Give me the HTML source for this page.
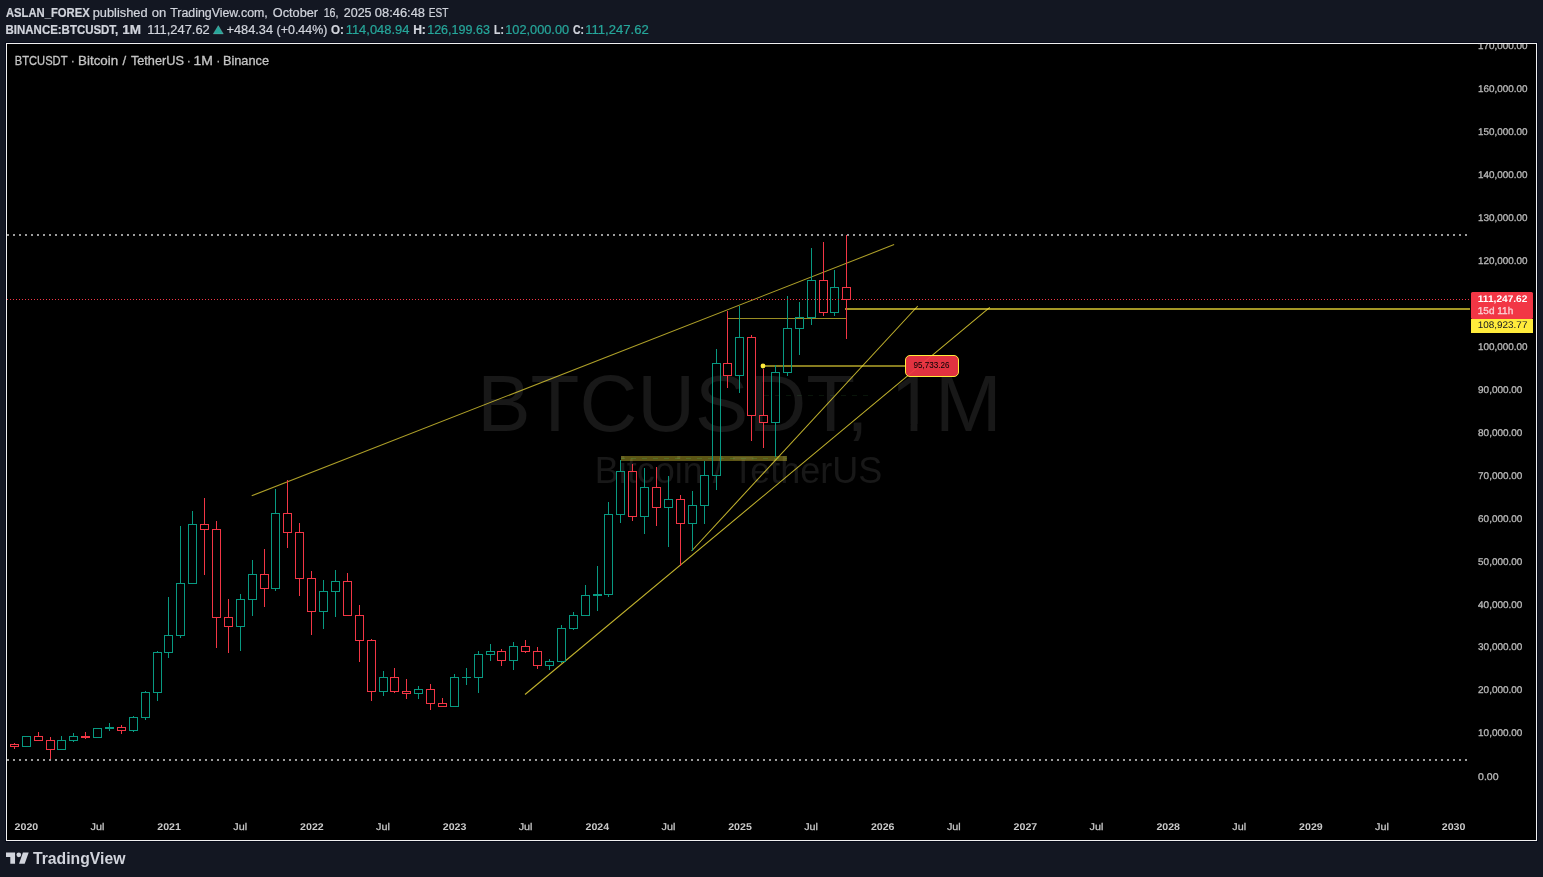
<!DOCTYPE html>
<html lang="en"><head><meta charset="utf-8"><title>BTCUSDT 1M</title>
<style>html,body{margin:0;padding:0;background:#131722;overflow:hidden}svg{display:block}text{font-family:"Liberation Sans",Arial,sans-serif}</style>
</head><body>
<svg width="1543" height="877" viewBox="0 0 1543 877">
<rect x="0" y="0" width="1543" height="877" fill="#131722"/>
<rect x="5" y="42" width="1533" height="800" fill="#070b1a" shape-rendering="crispEdges"/>
<rect x="6" y="43" width="1531" height="798" fill="#f0f0f0" shape-rendering="crispEdges"/>
<rect x="7" y="44" width="1529" height="796" fill="#000000" shape-rendering="crispEdges"/>
<clipPath id="cp"><rect x="7" y="44" width="1529" height="796"/></clipPath>
<clipPath id="plot"><rect x="7" y="44" width="1463" height="796"/></clipPath>
<g fill="#181818" text-anchor="middle">
<text x="739.5" y="430.7" font-size="80">BTCUSDT, 1M</text>
<text x="738.5" y="482.5" font-size="36">Bitcoin / TetherUS</text>
</g>
<path d="M895 424.3h15.6v8h-15.6zM917.4 424.3h15v8h-15z" fill="#000"/>
<g stroke="#ffeb3b" stroke-opacity="0.76" stroke-width="1.05" fill="none" clip-path="url(#plot)">
<line x1="251.7" y1="495.8" x2="894.1" y2="244.6" stroke-opacity="0.68"/>
<line x1="525" y1="694.5" x2="989.8" y2="307.3"/>
<line x1="691.6" y1="551" x2="917.8" y2="306"/>
</g>
<rect x="727" y="318" width="120" height="1" fill="#ffeb3b" fill-opacity="0.6" shape-rendering="crispEdges"/>
<rect x="621" y="456" width="166" height="5" fill="#ffeb3b" fill-opacity="0.36" shape-rendering="crispEdges"/>
<line x1="621" y1="458.5" x2="787" y2="458.5" stroke="#4caf50" stroke-opacity="0.28" stroke-width="1" stroke-dasharray="5 6" stroke-dashoffset="1.1" shape-rendering="crispEdges"/>
<line x1="763.5" y1="395.5" x2="867.5" y2="395.5" stroke="#4caf50" stroke-opacity="0.12" stroke-width="1" stroke-dasharray="5 6" shape-rendering="crispEdges"/>
<rect x="845" y="308" width="625" height="2" fill="#ffeb3b" fill-opacity="0.64" shape-rendering="crispEdges"/>
<rect x="765" y="365" width="140" height="2" fill="#ffeb3b" fill-opacity="0.53" shape-rendering="crispEdges"/>
<circle cx="763" cy="366" r="2.4" fill="#ffeb3b"/>
<g shape-rendering="crispEdges">
<rect x="14" y="743" width="1" height="1" fill="#f23645"/>
<rect x="14" y="747" width="1" height="2" fill="#f23645"/>
<path d="M10 744h9v3h-9zM11 745v1h7v-1z" fill="#f23645" fill-rule="evenodd"/>
<path d="M22 736h9v11h-9zM23 737v9h7v-9z" fill="#089981" fill-rule="evenodd"/>
<rect x="38" y="732" width="1" height="4" fill="#f23645"/>
<path d="M34 736h9v5h-9zM35 737v3h7v-3z" fill="#f23645" fill-rule="evenodd"/>
<rect x="50" y="737" width="1" height="3" fill="#f23645"/>
<rect x="50" y="750" width="1" height="10" fill="#f23645"/>
<path d="M46 740h9v10h-9zM47 741v8h7v-8z" fill="#f23645" fill-rule="evenodd"/>
<rect x="61" y="736" width="1" height="4" fill="#089981"/>
<path d="M57 740h9v10h-9zM58 741v8h7v-8z" fill="#089981" fill-rule="evenodd"/>
<rect x="73" y="733" width="1" height="3" fill="#089981"/>
<rect x="73" y="741" width="1" height="1" fill="#089981"/>
<path d="M69 736h9v5h-9zM70 737v3h7v-3z" fill="#089981" fill-rule="evenodd"/>
<rect x="85" y="732" width="1" height="4" fill="#f23645"/>
<rect x="85" y="738" width="1" height="1" fill="#f23645"/>
<rect x="81" y="736" width="9" height="2" fill="#f23645"/>
<path d="M93 728h9v10h-9zM94 729v8h7v-8z" fill="#089981" fill-rule="evenodd"/>
<rect x="109" y="723" width="1" height="4" fill="#089981"/>
<rect x="109" y="729" width="1" height="2" fill="#089981"/>
<rect x="105" y="727" width="9" height="2" fill="#089981"/>
<rect x="121" y="725" width="1" height="2" fill="#f23645"/>
<rect x="121" y="731" width="1" height="3" fill="#f23645"/>
<path d="M117 727h9v4h-9zM118 728v2h7v-2z" fill="#f23645" fill-rule="evenodd"/>
<rect x="133" y="716" width="1" height="1" fill="#089981"/>
<rect x="133" y="731" width="1" height="1" fill="#089981"/>
<path d="M129 717h9v14h-9zM130 718v12h7v-12z" fill="#089981" fill-rule="evenodd"/>
<rect x="145" y="691" width="1" height="1" fill="#089981"/>
<rect x="145" y="718" width="1" height="2" fill="#089981"/>
<path d="M141 692h9v26h-9zM142 693v24h7v-24z" fill="#089981" fill-rule="evenodd"/>
<rect x="157" y="651" width="1" height="1" fill="#089981"/>
<rect x="157" y="693" width="1" height="8" fill="#089981"/>
<path d="M153 652h9v41h-9zM154 653v39h7v-39z" fill="#089981" fill-rule="evenodd"/>
<rect x="168" y="597" width="1" height="38" fill="#089981"/>
<rect x="168" y="653" width="1" height="5" fill="#089981"/>
<path d="M164 635h9v18h-9zM165 636v16h7v-16z" fill="#089981" fill-rule="evenodd"/>
<rect x="180" y="526" width="1" height="57" fill="#089981"/>
<rect x="180" y="636" width="1" height="2" fill="#089981"/>
<path d="M176 583h9v53h-9zM177 584v51h7v-51z" fill="#089981" fill-rule="evenodd"/>
<rect x="192" y="511" width="1" height="13" fill="#089981"/>
<path d="M188 524h9v60h-9zM189 525v58h7v-58z" fill="#089981" fill-rule="evenodd"/>
<rect x="204" y="498" width="1" height="26" fill="#f23645"/>
<rect x="204" y="530" width="1" height="45" fill="#f23645"/>
<path d="M200 524h9v6h-9zM201 525v4h7v-4z" fill="#f23645" fill-rule="evenodd"/>
<rect x="216" y="521" width="1" height="8" fill="#f23645"/>
<rect x="216" y="618" width="1" height="30" fill="#f23645"/>
<path d="M212 529h9v89h-9zM213 530v87h7v-87z" fill="#f23645" fill-rule="evenodd"/>
<rect x="228" y="599" width="1" height="18" fill="#f23645"/>
<rect x="228" y="627" width="1" height="26" fill="#f23645"/>
<path d="M224 617h9v10h-9zM225 618v8h7v-8z" fill="#f23645" fill-rule="evenodd"/>
<rect x="240" y="594" width="1" height="5" fill="#089981"/>
<rect x="240" y="627" width="1" height="24" fill="#089981"/>
<path d="M236 599h9v28h-9zM237 600v26h7v-26z" fill="#089981" fill-rule="evenodd"/>
<rect x="252" y="560" width="1" height="14" fill="#089981"/>
<rect x="252" y="600" width="1" height="16" fill="#089981"/>
<path d="M248 574h9v26h-9zM249 575v24h7v-24z" fill="#089981" fill-rule="evenodd"/>
<rect x="264" y="549" width="1" height="25" fill="#f23645"/>
<rect x="264" y="589" width="1" height="18" fill="#f23645"/>
<path d="M260 574h9v15h-9zM261 575v13h7v-13z" fill="#f23645" fill-rule="evenodd"/>
<rect x="275" y="489" width="1" height="24" fill="#089981"/>
<rect x="275" y="589" width="1" height="2" fill="#089981"/>
<path d="M271 513h9v76h-9zM272 514v74h7v-74z" fill="#089981" fill-rule="evenodd"/>
<rect x="287" y="480" width="1" height="33" fill="#f23645"/>
<rect x="287" y="533" width="1" height="15" fill="#f23645"/>
<path d="M283 513h9v20h-9zM284 514v18h7v-18z" fill="#f23645" fill-rule="evenodd"/>
<rect x="299" y="523" width="1" height="9" fill="#f23645"/>
<rect x="299" y="579" width="1" height="17" fill="#f23645"/>
<path d="M295 532h9v47h-9zM296 533v45h7v-45z" fill="#f23645" fill-rule="evenodd"/>
<rect x="311" y="571" width="1" height="7" fill="#f23645"/>
<rect x="311" y="612" width="1" height="23" fill="#f23645"/>
<path d="M307 578h9v34h-9zM308 579v32h7v-32z" fill="#f23645" fill-rule="evenodd"/>
<rect x="323" y="580" width="1" height="11" fill="#089981"/>
<rect x="323" y="612" width="1" height="17" fill="#089981"/>
<path d="M319 591h9v21h-9zM320 592v19h7v-19z" fill="#089981" fill-rule="evenodd"/>
<rect x="335" y="570" width="1" height="11" fill="#089981"/>
<rect x="335" y="592" width="1" height="25" fill="#089981"/>
<path d="M331 581h9v11h-9zM332 582v9h7v-9z" fill="#089981" fill-rule="evenodd"/>
<rect x="347" y="573" width="1" height="8" fill="#f23645"/>
<path d="M343 581h9v35h-9zM344 582v33h7v-33z" fill="#f23645" fill-rule="evenodd"/>
<rect x="359" y="605" width="1" height="10" fill="#f23645"/>
<rect x="359" y="641" width="1" height="21" fill="#f23645"/>
<path d="M355 615h9v26h-9zM356 616v24h7v-24z" fill="#f23645" fill-rule="evenodd"/>
<rect x="371" y="639" width="1" height="1" fill="#f23645"/>
<rect x="371" y="692" width="1" height="9" fill="#f23645"/>
<path d="M367 640h9v52h-9zM368 641v50h7v-50z" fill="#f23645" fill-rule="evenodd"/>
<rect x="383" y="671" width="1" height="6" fill="#089981"/>
<rect x="383" y="692" width="1" height="4" fill="#089981"/>
<path d="M379 677h9v15h-9zM380 678v13h7v-13z" fill="#089981" fill-rule="evenodd"/>
<rect x="394" y="668" width="1" height="9" fill="#f23645"/>
<rect x="394" y="692" width="1" height="1" fill="#f23645"/>
<path d="M390 677h9v15h-9zM391 678v13h7v-13z" fill="#f23645" fill-rule="evenodd"/>
<rect x="406" y="679" width="1" height="12" fill="#f23645"/>
<rect x="406" y="694" width="1" height="5" fill="#f23645"/>
<path d="M402 691h9v3h-9zM403 692v1h7v-1z" fill="#f23645" fill-rule="evenodd"/>
<rect x="418" y="686" width="1" height="3" fill="#089981"/>
<rect x="418" y="694" width="1" height="5" fill="#089981"/>
<path d="M414 689h9v5h-9zM415 690v3h7v-3z" fill="#089981" fill-rule="evenodd"/>
<rect x="430" y="684" width="1" height="5" fill="#f23645"/>
<rect x="430" y="704" width="1" height="6" fill="#f23645"/>
<path d="M426 689h9v15h-9zM427 690v13h7v-13z" fill="#f23645" fill-rule="evenodd"/>
<rect x="442" y="698" width="1" height="5" fill="#f23645"/>
<path d="M438 703h9v4h-9zM439 704v2h7v-2z" fill="#f23645" fill-rule="evenodd"/>
<rect x="454" y="674" width="1" height="3" fill="#089981"/>
<path d="M450 677h9v30h-9zM451 678v28h7v-28z" fill="#089981" fill-rule="evenodd"/>
<rect x="466" y="668" width="1" height="9" fill="#089981"/>
<rect x="466" y="678" width="1" height="7" fill="#089981"/>
<rect x="462" y="677" width="9" height="1" fill="#089981"/>
<rect x="478" y="651" width="1" height="3" fill="#089981"/>
<rect x="478" y="678" width="1" height="15" fill="#089981"/>
<path d="M474 654h9v24h-9zM475 655v22h7v-22z" fill="#089981" fill-rule="evenodd"/>
<rect x="490" y="644" width="1" height="7" fill="#089981"/>
<rect x="490" y="655" width="1" height="6" fill="#089981"/>
<path d="M486 651h9v4h-9zM487 652v2h7v-2z" fill="#089981" fill-rule="evenodd"/>
<rect x="501" y="649" width="1" height="2" fill="#f23645"/>
<rect x="501" y="661" width="1" height="5" fill="#f23645"/>
<path d="M497 651h9v10h-9zM498 652v8h7v-8z" fill="#f23645" fill-rule="evenodd"/>
<rect x="513" y="642" width="1" height="4" fill="#089981"/>
<rect x="513" y="661" width="1" height="9" fill="#089981"/>
<path d="M509 646h9v15h-9zM510 647v13h7v-13z" fill="#089981" fill-rule="evenodd"/>
<rect x="525" y="640" width="1" height="6" fill="#f23645"/>
<rect x="525" y="652" width="1" height="1" fill="#f23645"/>
<path d="M521 646h9v6h-9zM522 647v4h7v-4z" fill="#f23645" fill-rule="evenodd"/>
<rect x="537" y="647" width="1" height="4" fill="#f23645"/>
<rect x="537" y="666" width="1" height="3" fill="#f23645"/>
<path d="M533 651h9v15h-9zM534 652v13h7v-13z" fill="#f23645" fill-rule="evenodd"/>
<rect x="549" y="659" width="1" height="2" fill="#089981"/>
<rect x="549" y="666" width="1" height="4" fill="#089981"/>
<path d="M545 661h9v5h-9zM546 662v3h7v-3z" fill="#089981" fill-rule="evenodd"/>
<rect x="561" y="625" width="1" height="3" fill="#089981"/>
<rect x="561" y="662" width="1" height="1" fill="#089981"/>
<path d="M557 628h9v34h-9zM558 629v32h7v-32z" fill="#089981" fill-rule="evenodd"/>
<rect x="573" y="612" width="1" height="3" fill="#089981"/>
<rect x="573" y="629" width="1" height="1" fill="#089981"/>
<path d="M569 615h9v14h-9zM570 616v12h7v-12z" fill="#089981" fill-rule="evenodd"/>
<rect x="585" y="585" width="1" height="10" fill="#089981"/>
<path d="M581 595h9v21h-9zM582 596v19h7v-19z" fill="#089981" fill-rule="evenodd"/>
<rect x="597" y="566" width="1" height="28" fill="#089981"/>
<rect x="597" y="596" width="1" height="15" fill="#089981"/>
<rect x="593" y="594" width="9" height="2" fill="#089981"/>
<rect x="608" y="502" width="1" height="12" fill="#089981"/>
<rect x="608" y="595" width="1" height="2" fill="#089981"/>
<path d="M604 514h9v81h-9zM605 515v79h7v-79z" fill="#089981" fill-rule="evenodd"/>
<rect x="620" y="460" width="1" height="11" fill="#089981"/>
<rect x="620" y="515" width="1" height="8" fill="#089981"/>
<path d="M616 471h9v44h-9zM617 472v42h7v-42z" fill="#089981" fill-rule="evenodd"/>
<rect x="632" y="464" width="1" height="7" fill="#f23645"/>
<rect x="632" y="517" width="1" height="4" fill="#f23645"/>
<path d="M628 471h9v46h-9zM629 472v44h7v-44z" fill="#f23645" fill-rule="evenodd"/>
<rect x="644" y="468" width="1" height="19" fill="#089981"/>
<rect x="644" y="517" width="1" height="17" fill="#089981"/>
<path d="M640 487h9v30h-9zM641 488v28h7v-28z" fill="#089981" fill-rule="evenodd"/>
<rect x="656" y="467" width="1" height="20" fill="#f23645"/>
<rect x="656" y="508" width="1" height="18" fill="#f23645"/>
<path d="M652 487h9v21h-9zM653 488v19h7v-19z" fill="#f23645" fill-rule="evenodd"/>
<rect x="668" y="476" width="1" height="23" fill="#089981"/>
<rect x="668" y="508" width="1" height="39" fill="#089981"/>
<path d="M664 499h9v9h-9zM665 500v7h7v-7z" fill="#089981" fill-rule="evenodd"/>
<rect x="680" y="495" width="1" height="4" fill="#f23645"/>
<rect x="680" y="524" width="1" height="42" fill="#f23645"/>
<path d="M676 499h9v25h-9zM677 500v23h7v-23z" fill="#f23645" fill-rule="evenodd"/>
<rect x="692" y="491" width="1" height="14" fill="#089981"/>
<rect x="692" y="524" width="1" height="27" fill="#089981"/>
<path d="M688 505h9v19h-9zM689 506v17h7v-17z" fill="#089981" fill-rule="evenodd"/>
<rect x="704" y="461" width="1" height="14" fill="#089981"/>
<rect x="704" y="506" width="1" height="18" fill="#089981"/>
<path d="M700 475h9v31h-9zM701 476v29h7v-29z" fill="#089981" fill-rule="evenodd"/>
<rect x="716" y="349" width="1" height="14" fill="#089981"/>
<rect x="716" y="476" width="1" height="14" fill="#089981"/>
<path d="M712 363h9v113h-9zM713 364v111h7v-111z" fill="#089981" fill-rule="evenodd"/>
<rect x="727" y="311" width="1" height="52" fill="#f23645"/>
<rect x="727" y="376" width="1" height="12" fill="#f23645"/>
<path d="M723 363h9v13h-9zM724 364v11h7v-11z" fill="#f23645" fill-rule="evenodd"/>
<rect x="739" y="306" width="1" height="31" fill="#089981"/>
<rect x="739" y="376" width="1" height="17" fill="#089981"/>
<path d="M735 337h9v39h-9zM736 338v37h7v-37z" fill="#089981" fill-rule="evenodd"/>
<rect x="751" y="335" width="1" height="2" fill="#f23645"/>
<rect x="751" y="416" width="1" height="25" fill="#f23645"/>
<path d="M747 337h9v79h-9zM748 338v77h7v-77z" fill="#f23645" fill-rule="evenodd"/>
<rect x="763" y="369" width="1" height="46" fill="#f23645"/>
<rect x="763" y="423" width="1" height="25" fill="#f23645"/>
<path d="M759 415h9v8h-9zM760 416v6h7v-6z" fill="#f23645" fill-rule="evenodd"/>
<rect x="775" y="365" width="1" height="7" fill="#089981"/>
<rect x="775" y="423" width="1" height="34" fill="#089981"/>
<path d="M771 372h9v51h-9zM772 373v49h7v-49z" fill="#089981" fill-rule="evenodd"/>
<rect x="787" y="296" width="1" height="32" fill="#089981"/>
<rect x="787" y="373" width="1" height="3" fill="#089981"/>
<path d="M783 328h9v45h-9zM784 329v43h7v-43z" fill="#089981" fill-rule="evenodd"/>
<rect x="799" y="302" width="1" height="15" fill="#089981"/>
<rect x="799" y="329" width="1" height="26" fill="#089981"/>
<path d="M795 317h9v12h-9zM796 318v10h7v-10z" fill="#089981" fill-rule="evenodd"/>
<rect x="811" y="248" width="1" height="32" fill="#089981"/>
<rect x="811" y="318" width="1" height="7" fill="#089981"/>
<path d="M807 280h9v38h-9zM808 281v36h7v-36z" fill="#089981" fill-rule="evenodd"/>
<rect x="823" y="242" width="1" height="38" fill="#f23645"/>
<rect x="823" y="313" width="1" height="3" fill="#f23645"/>
<path d="M819 280h9v33h-9zM820 281v31h7v-31z" fill="#f23645" fill-rule="evenodd"/>
<rect x="834" y="270" width="1" height="17" fill="#089981"/>
<rect x="834" y="313" width="1" height="3" fill="#089981"/>
<path d="M830 287h9v26h-9zM831 288v24h7v-24z" fill="#089981" fill-rule="evenodd"/>
<rect x="846" y="235" width="1" height="52" fill="#f23645"/>
<rect x="846" y="300" width="1" height="39" fill="#f23645"/>
<path d="M842 287h9v13h-9zM843 288v11h7v-11z" fill="#f23645" fill-rule="evenodd"/>
</g>
<g shape-rendering="crispEdges" stroke="#9c9c9c" stroke-width="2" stroke-dasharray="2 4">
<line x1="7" y1="235" x2="1469" y2="235"/>
<line x1="7" y1="760" x2="1469" y2="760"/>
</g>
<rect x="905.5" y="355.5" width="53" height="21" rx="4.5" fill="#f23645" fill-opacity="0.93" stroke="#ffeb3b" stroke-width="1"/>
<text x="913.6" y="368" font-size="9" textLength="36" lengthAdjust="spacingAndGlyphs" fill="#000">95,733.26</text>
<line x1="7" y1="299.5" x2="1470" y2="299.5" stroke="#f23645" stroke-width="1" stroke-dasharray="1 2" shape-rendering="crispEdges"/>
<g font-size="9.7" text-rendering="geometricPrecision" fill="#b8b8b8" stroke="#b8b8b8" stroke-width="0.3" clip-path="url(#cp)">
<text x="1478.1" y="780.2" textLength="20.4" lengthAdjust="spacingAndGlyphs">0.00</text>
<text x="1478.1" y="736.3" textLength="44.2" lengthAdjust="spacingAndGlyphs">10,000.00</text>
<text x="1478.1" y="693.4" textLength="44.2" lengthAdjust="spacingAndGlyphs">20,000.00</text>
<text x="1478.1" y="650.4" textLength="44.2" lengthAdjust="spacingAndGlyphs">30,000.00</text>
<text x="1478.1" y="607.5" textLength="44.2" lengthAdjust="spacingAndGlyphs">40,000.00</text>
<text x="1478.1" y="564.5" textLength="44.2" lengthAdjust="spacingAndGlyphs">50,000.00</text>
<text x="1478.1" y="521.6" textLength="44.2" lengthAdjust="spacingAndGlyphs">60,000.00</text>
<text x="1478.1" y="478.7" textLength="44.2" lengthAdjust="spacingAndGlyphs">70,000.00</text>
<text x="1478.1" y="435.7" textLength="44.2" lengthAdjust="spacingAndGlyphs">80,000.00</text>
<text x="1478.1" y="392.8" textLength="44.2" lengthAdjust="spacingAndGlyphs">90,000.00</text>
<text x="1478.1" y="349.8" textLength="49.4" lengthAdjust="spacingAndGlyphs">100,000.00</text>
<text x="1478.1" y="306.9" textLength="49.4" lengthAdjust="spacingAndGlyphs">110,000.00</text>
<text x="1478.1" y="264.0" textLength="49.4" lengthAdjust="spacingAndGlyphs">120,000.00</text>
<text x="1478.1" y="221.0" textLength="49.4" lengthAdjust="spacingAndGlyphs">130,000.00</text>
<text x="1478.1" y="178.1" textLength="49.4" lengthAdjust="spacingAndGlyphs">140,000.00</text>
<text x="1478.1" y="135.1" textLength="49.4" lengthAdjust="spacingAndGlyphs">150,000.00</text>
<text x="1478.1" y="92.2" textLength="49.4" lengthAdjust="spacingAndGlyphs">160,000.00</text>
<text x="1478.1" y="49.3" textLength="49.4" lengthAdjust="spacingAndGlyphs">170,000.00</text>
</g>
<rect x="1471" y="292" width="62" height="27" rx="1.5" fill="#f23645"/>
<rect x="1471" y="319" width="62" height="14" fill="#ffeb3b"/>
<text x="1477.8" y="302.1" text-rendering="geometricPrecision" font-size="9.6" font-weight="bold" fill="#fff" textLength="49.6" lengthAdjust="spacingAndGlyphs">111,247.62</text>
<text x="1477.8" y="314.2" text-rendering="geometricPrecision" font-size="9.8" fill="#fbd0d4" stroke="#fbd0d4" stroke-width="0.3" textLength="35.4" lengthAdjust="spacingAndGlyphs">15d 11h</text>
<text x="1477.8" y="328.1" text-rendering="geometricPrecision" font-size="9.6" fill="#131722" textLength="49.6" lengthAdjust="spacingAndGlyphs">108,923.77</text>
<g font-size="9.8" text-rendering="geometricPrecision" fill="#c8c8c8">
<text x="14.6" y="830" font-weight="bold" textLength="23.6" lengthAdjust="spacingAndGlyphs">2020</text>
<text x="90.6" y="830" textLength="13.8" lengthAdjust="spacingAndGlyphs" stroke="#c8c8c8" stroke-width="0.25">Jul</text>
<text x="157.3" y="830" font-weight="bold" textLength="23.6" lengthAdjust="spacingAndGlyphs">2021</text>
<text x="233.3" y="830" textLength="13.8" lengthAdjust="spacingAndGlyphs" stroke="#c8c8c8" stroke-width="0.25">Jul</text>
<text x="300.1" y="830" font-weight="bold" textLength="23.6" lengthAdjust="spacingAndGlyphs">2022</text>
<text x="376.0" y="830" textLength="13.8" lengthAdjust="spacingAndGlyphs" stroke="#c8c8c8" stroke-width="0.25">Jul</text>
<text x="442.8" y="830" font-weight="bold" textLength="23.6" lengthAdjust="spacingAndGlyphs">2023</text>
<text x="518.7" y="830" textLength="13.8" lengthAdjust="spacingAndGlyphs" stroke="#c8c8c8" stroke-width="0.25">Jul</text>
<text x="585.5" y="830" font-weight="bold" textLength="23.6" lengthAdjust="spacingAndGlyphs">2024</text>
<text x="661.5" y="830" textLength="13.8" lengthAdjust="spacingAndGlyphs" stroke="#c8c8c8" stroke-width="0.25">Jul</text>
<text x="728.2" y="830" font-weight="bold" textLength="23.6" lengthAdjust="spacingAndGlyphs">2025</text>
<text x="804.2" y="830" textLength="13.8" lengthAdjust="spacingAndGlyphs" stroke="#c8c8c8" stroke-width="0.25">Jul</text>
<text x="870.9" y="830" font-weight="bold" textLength="23.6" lengthAdjust="spacingAndGlyphs">2026</text>
<text x="946.9" y="830" textLength="13.8" lengthAdjust="spacingAndGlyphs" stroke="#c8c8c8" stroke-width="0.25">Jul</text>
<text x="1013.6" y="830" font-weight="bold" textLength="23.6" lengthAdjust="spacingAndGlyphs">2027</text>
<text x="1089.6" y="830" textLength="13.8" lengthAdjust="spacingAndGlyphs" stroke="#c8c8c8" stroke-width="0.25">Jul</text>
<text x="1156.4" y="830" font-weight="bold" textLength="23.6" lengthAdjust="spacingAndGlyphs">2028</text>
<text x="1232.3" y="830" textLength="13.8" lengthAdjust="spacingAndGlyphs" stroke="#c8c8c8" stroke-width="0.25">Jul</text>
<text x="1299.1" y="830" font-weight="bold" textLength="23.6" lengthAdjust="spacingAndGlyphs">2029</text>
<text x="1375.0" y="830" textLength="13.8" lengthAdjust="spacingAndGlyphs" stroke="#c8c8c8" stroke-width="0.25">Jul</text>
<text x="1441.8" y="830" font-weight="bold" textLength="23.6" lengthAdjust="spacingAndGlyphs">2030</text>
</g>
<g fill="#c4c4c4" stroke="#c4c4c4" stroke-width="0.3">
<text x="14.8" y="64.6" font-size="12.6" textLength="52.7" lengthAdjust="spacingAndGlyphs">BTCUSDT</text>
<text x="71.1" y="64.6" font-size="12.6" textLength="3.6" lengthAdjust="spacingAndGlyphs">·</text>
<text x="78.1" y="64.6" font-size="12.6" textLength="40.1" lengthAdjust="spacingAndGlyphs">Bitcoin</text>
<text x="122.6" y="64.6" font-size="13.2">/</text>
<text x="130.9" y="64.6" font-size="12.6" textLength="53.0" lengthAdjust="spacingAndGlyphs">TetherUS</text>
<text x="187.1" y="64.6" font-size="12.6" textLength="3.6" lengthAdjust="spacingAndGlyphs">·</text>
<text x="193.6" y="64.6" font-size="12.6" textLength="19.4" lengthAdjust="spacingAndGlyphs">1M</text>
<text x="216.4" y="64.6" font-size="12.6" textLength="3.6" lengthAdjust="spacingAndGlyphs">·</text>
<text x="222.9" y="64.6" font-size="12.6" textLength="46.1" lengthAdjust="spacingAndGlyphs">Binance</text>
</g>
<g fill="#d1d4dc" stroke="#d1d4dc" stroke-width="0.22">
<text x="5.9" y="16.7" font-size="12.6" textLength="83.8" lengthAdjust="spacingAndGlyphs" font-weight="bold">ASLAN_FOREX</text>
<text x="92.7" y="16.7" font-size="12.6" textLength="54.9" lengthAdjust="spacingAndGlyphs">published</text>
<text x="151.8" y="16.7" font-size="12.6" textLength="14.5" lengthAdjust="spacingAndGlyphs">on</text>
<text x="170.2" y="16.7" font-size="12.6" textLength="97.6" lengthAdjust="spacingAndGlyphs">TradingView.com,</text>
<text x="272.8" y="16.7" font-size="12.6" textLength="45.3" lengthAdjust="spacingAndGlyphs">October</text>
<text x="323.7" y="16.7" font-size="12.6" textLength="14.8" lengthAdjust="spacingAndGlyphs">16,</text>
<text x="343.7" y="16.7" font-size="12.6" textLength="27.9" lengthAdjust="spacingAndGlyphs">2025</text>
<text x="374.8" y="16.7" font-size="12.6" textLength="50.2" lengthAdjust="spacingAndGlyphs">08:46:48</text>
<text x="428.7" y="16.7" font-size="12.6" textLength="19.7" lengthAdjust="spacingAndGlyphs">EST</text>
<text x="5.6" y="33.8" font-size="12.6" textLength="112.7" lengthAdjust="spacingAndGlyphs" font-weight="bold">BINANCE:BTCUSDT,</text>
<text x="122.3" y="33.8" font-size="12.6" textLength="18.8" lengthAdjust="spacingAndGlyphs" font-weight="bold">1M</text>
<text x="147.2" y="33.8" font-size="12.6" textLength="62.6" lengthAdjust="spacingAndGlyphs">111,247.62</text>
<path d="M213.2 33.9L218.3 25.6L223.4 33.9z" fill="#26a69a"/>
<text x="226.5" y="33.8" font-size="12.6" textLength="46.5" lengthAdjust="spacingAndGlyphs">+484.34</text>
<text x="276.6" y="33.8" font-size="12.6" textLength="50.8" lengthAdjust="spacingAndGlyphs">(+0.44%)</text>
<text x="330.9" y="33.8" font-size="12.6" textLength="12.9" lengthAdjust="spacingAndGlyphs" font-weight="bold">O:</text>
<text x="345.7" y="33.8" font-size="12.6" textLength="63.8" lengthAdjust="spacingAndGlyphs" fill="#26a69a" stroke="#26a69a">114,048.94</text>
<text x="413.2" y="33.8" font-size="12.6" textLength="12.7" lengthAdjust="spacingAndGlyphs" font-weight="bold">H:</text>
<text x="427.2" y="33.8" font-size="12.6" textLength="62.7" lengthAdjust="spacingAndGlyphs" fill="#26a69a" stroke="#26a69a">126,199.63</text>
<text x="494.1" y="33.8" font-size="12.6" textLength="9.8" lengthAdjust="spacingAndGlyphs" font-weight="bold">L:</text>
<text x="505.2" y="33.8" font-size="12.6" textLength="63.9" lengthAdjust="spacingAndGlyphs" fill="#26a69a" stroke="#26a69a">102,000.00</text>
<text x="572.9" y="33.8" font-size="12.6" textLength="11.0" lengthAdjust="spacingAndGlyphs" font-weight="bold">C:</text>
<text x="585.2" y="33.8" font-size="12.6" textLength="63.6" lengthAdjust="spacingAndGlyphs" fill="#26a69a" stroke="#26a69a">111,247.62</text>
</g>
<g fill="#d1d4dc">
<path d="M6 852.4h9.05v11.4h-4.75v-6.8h-4.3z"/><circle cx="18.8" cy="854.8" r="2.35"/><path d="M22.9 852.4h5.8l-4 11.4h-5.65z"/>
<text x="33" y="864" font-size="15.6" font-weight="bold" textLength="92.4" lengthAdjust="spacingAndGlyphs">TradingView</text>
</g>
</svg></body></html>
